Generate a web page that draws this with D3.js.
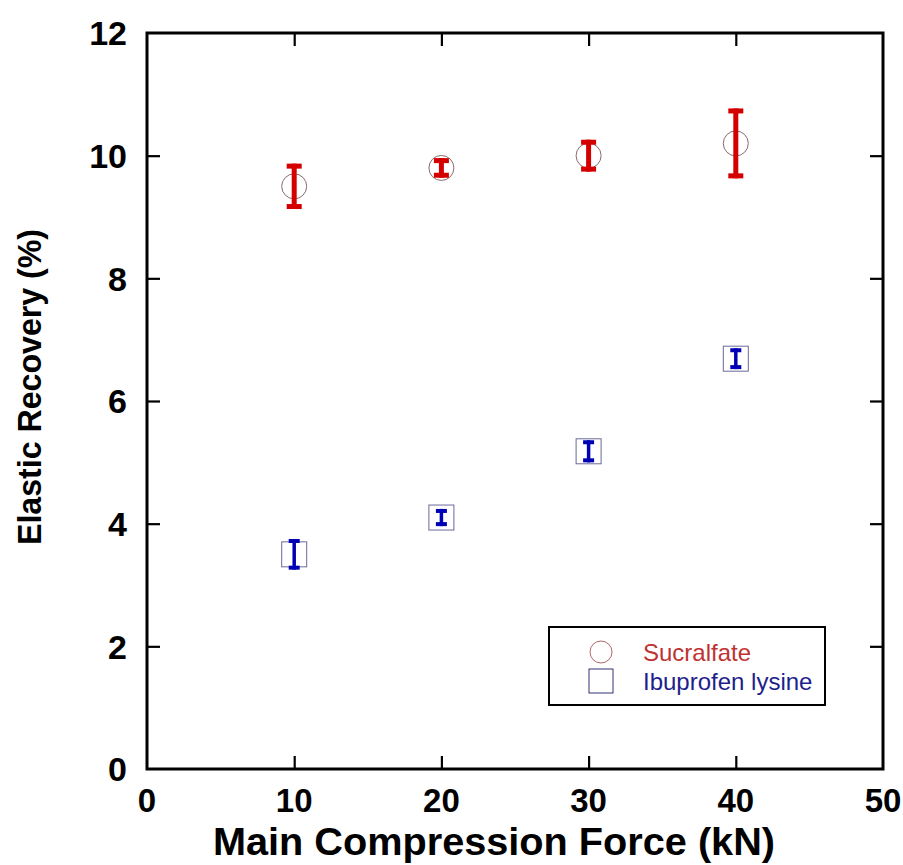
<!DOCTYPE html>
<html>
<head>
<meta charset="utf-8">
<script src="https://cdn.jsdelivr.net/npm/d3@7"></script>
<style>
  html, body { margin: 0; padding: 0; background: #fff; }
  svg { display: block; font-family: "Liberation Sans", Arial, sans-serif; }
</style>
</head>
<body>
<svg id="chart" width="903" height="865"></svg>
<script>
const forces = [10, 20, 30, 40];
const sucralfate = [9.5, 9.8, 10.0, 10.2];
const sucralfateErr = [0.37, 0.16, 0.26, 0.57];
const ibuprofen = [3.5, 4.1, 5.18, 6.69];
const ibuprofenErr = [0.25, 0.14, 0.18, 0.17];
const xTicks = [0, 10, 20, 30, 40, 50];
const yTicks = [0, 2, 4, 6, 8, 10, 12];
const seriesNames = ["Sucralfate", "Ibuprofen lysine"];

const svg = d3.select("#chart");
const L = 147, R = 883, T = 33, B = 769;
const x = d3.scaleLinear().domain([0, 50]).range([L, R]);
const y = d3.scaleLinear().domain([0, 12]).range([B, T]);

// ticks (inward) on all four sides
const tickLen = 13;
const axB = svg.append("g").attr("transform", `translate(0,${B})`)
  .call(d3.axisBottom(x).tickValues(xTicks.slice(1, -1)).tickSizeInner(-tickLen).tickSizeOuter(0).tickFormat(""));
const axT = svg.append("g").attr("transform", `translate(0,${T})`)
  .call(d3.axisTop(x).tickValues(xTicks.slice(1, -1)).tickSizeInner(-tickLen).tickSizeOuter(0).tickFormat(""));
const axL = svg.append("g").attr("transform", `translate(${L},0)`)
  .call(d3.axisLeft(y).tickValues(yTicks.slice(1, -1)).tickSizeInner(-tickLen).tickSizeOuter(0).tickFormat(""));
const axR = svg.append("g").attr("transform", `translate(${R},0)`)
  .call(d3.axisRight(y).tickValues(yTicks.slice(1, -1)).tickSizeInner(-tickLen).tickSizeOuter(0).tickFormat(""));
[axB, axT, axL, axR].forEach(a => {
  a.select(".domain").remove();
  a.selectAll(".tick line").attr("stroke", "#000").attr("stroke-width", 2.2);
});

// frame
svg.append("rect").attr("x", L).attr("y", T).attr("width", R - L).attr("height", B - T)
  .attr("fill", "none").attr("stroke", "#000").attr("stroke-width", 3);

// tick labels
svg.append("g").selectAll("text").data(yTicks).join("text")
  .attr("x", L - 20).attr("y", d => y(d)).attr("dy", "0.36em")
  .attr("text-anchor", "end").attr("font-size", 34).attr("font-weight", "bold")
  .text(d => d);
svg.append("g").selectAll("text").data(xTicks).join("text")
  .attr("x", d => x(d)).attr("y", 812)
  .attr("text-anchor", "middle").attr("font-size", 33).attr("font-weight", "bold")
  .text(d => d);

// axis titles
svg.append("text").attr("x", 494).attr("y", 855)
  .attr("text-anchor", "middle").attr("font-size", 38).attr("font-weight", "bold")
  .attr("textLength", 562).attr("lengthAdjust", "spacingAndGlyphs")
  .text("Main Compression Force (kN)");
svg.append("text").attr("transform", `translate(41,387) rotate(-90)`)
  .attr("text-anchor", "middle").attr("font-size", 33).attr("font-weight", "bold")
  .attr("textLength", 316).attr("lengthAdjust", "spacingAndGlyphs")
  .text("Elastic Recovery (%)");

// Sucralfate markers
const gS = svg.append("g");
gS.selectAll("circle").data(forces).join("circle")
  .attr("cx", d => x(d)).attr("cy", (d, i) => y(sucralfate[i])).attr("r", 12.5)
  .attr("fill", "none").attr("stroke", "#8a6a6a").attr("stroke-width", 1);
// Ibuprofen markers
const gI = svg.append("g");
gI.selectAll("rect").data(forces).join("rect")
  .attr("x", d => x(d) - 12.5).attr("y", (d, i) => y(ibuprofen[i]) - 12.5)
  .attr("width", 25).attr("height", 25)
  .attr("fill", "none").attr("stroke", "#6a6a9a").attr("stroke-width", 1);

function errorBars(g, vals, errs, color, w, capW, capH) {
  forces.forEach((f, i) => {
    const cx = x(f), y1 = y(vals[i] + errs[i]), y2 = y(vals[i] - errs[i]);
    g.append("line").attr("x1", cx).attr("x2", cx).attr("y1", y1).attr("y2", y2)
      .attr("stroke", color).attr("stroke-width", w);
    g.append("rect").attr("x", cx - capW / 2).attr("y", y1).attr("width", capW).attr("height", capH).attr("fill", color);
    g.append("rect").attr("x", cx - capW / 2).attr("y", y2 - capH).attr("width", capW).attr("height", capH).attr("fill", color);
  });
}
errorBars(gS, sucralfate, sucralfateErr, "#d40000", 5, 15, 5);
errorBars(gI, ibuprofen, ibuprofenErr, "#0000b4", 3.5, 11, 4);

// legend
const lg = svg.append("g");
lg.append("rect").attr("x", 549).attr("y", 627).attr("width", 276).attr("height", 78)
  .attr("fill", "#fff").attr("stroke", "#000").attr("stroke-width", 2);
lg.append("circle").attr("cx", 601).attr("cy", 652).attr("r", 11)
  .attr("fill", "none").attr("stroke", "#b06868").attr("stroke-width", 1);
lg.append("rect").attr("x", 589).attr("y", 669).attr("width", 24).attr("height", 24)
  .attr("fill", "none").attr("stroke", "#303070").attr("stroke-width", 1);
lg.append("text").attr("x", 643).attr("y", 661).attr("font-size", 24).attr("fill", "#c03232")
  .text(seriesNames[0]);
lg.append("text").attr("x", 643).attr("y", 690).attr("font-size", 24).attr("fill", "#1e1e8c")
  .text(seriesNames[1]);
</script>
</body>
</html>
